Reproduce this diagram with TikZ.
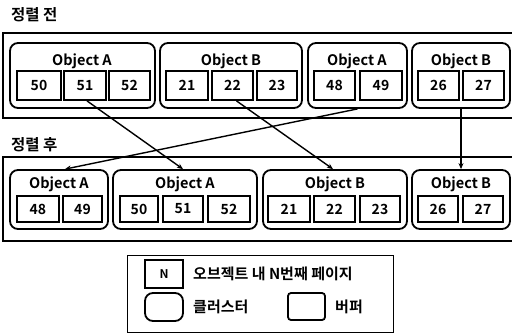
\documentclass[tikz,border=0pt]{standalone}
\usepackage{fontspec}
\setmainfont{Noto Sans CJK KR}[BoldFont={Noto Sans CJK KR Bold}]
\usetikzlibrary{arrows.meta}
\newcommand\bx[7]{\node[#1, minimum width={#4-#3}, minimum height={#6-#5}] (#2) at ({(#3+#4)/2},{(#5+#6)/2}) {#7};}
\begin{document}
\begin{tikzpicture}[x=1pt,y=-1pt,
  pagebox/.style={draw, line width=1.8pt, inner sep=0pt, font=\bfseries\fontsize{14}{15}\selectfont},
  clusterbox/.style={draw, line width=1.8pt, rounded corners=8pt, inner sep=0pt},
  objtitle/.style={font=\bfseries\fontsize{14.5}{15}\selectfont, inner sep=0pt},
  sectitle/.style={font=\bfseries\fontsize{15.5}{16}\selectfont, inner sep=0pt, anchor=west},
  buf/.style={line width=2pt},
  move/.style={line width=1.4pt, -{Stealth[length=6pt,width=5pt]}},
  legtext/.style={font=\bfseries\fontsize{15}{16}\selectfont, inner sep=0pt, anchor=west},
  legbox/.style={draw, line width=0.9pt, inner sep=0pt}
]
\useasboundingbox (0,0) rectangle (512,333);

% section titles
\node[sectitle] (t1) at (11,15) {정렬 전};
\node[sectitle] (t2) at (11,145) {정렬 후};

% buffers
\draw[buf] (512,33) -- (3,33) -- (3,118) -- (512,118);
\draw[buf] (512,157) -- (3,157) -- (3,241) -- (512,241);

% ---- top row ----
\bx{clusterbox}{tc1}{10}{155}{43}{108}{}
\bx{clusterbox}{tc2}{160}{302}{43}{108}{}
\bx{clusterbox}{tc3}{308}{407}{43}{108}{}
\bx{clusterbox}{tc4}{412}{510}{43}{108}{}
\node[objtitle] (tl1) at (82,61) {Object A};
\node[objtitle] (tl2) at (231,61) {Object B};
\node[objtitle] (tl3) at (357,61) {Object A};
\node[objtitle] (tl4) at (461,61) {Object B};
\bx{pagebox}{t50}{17}{61}{71}{100}{50}
\bx{pagebox}{t51}{64}{106}{71}{100}{51}
\bx{pagebox}{t52}{109}{150}{71}{100}{52}
\bx{pagebox}{t21}{166}{208}{71}{100}{21}
\bx{pagebox}{t22}{212}{253}{71}{100}{22}
\bx{pagebox}{t23}{257}{297}{71}{100}{23}
\bx{pagebox}{t48}{314}{355}{71}{100}{48}
\bx{pagebox}{t49}{360}{402}{71}{100}{49}
\bx{pagebox}{t26}{418}{459}{71}{100}{26}
\bx{pagebox}{t27}{463}{504}{71}{100}{27}

% ---- bottom row ----
\bx{clusterbox}{bc1}{10}{108}{170}{229}{}
\bx{clusterbox}{bc2}{113}{257}{170}{229}{}
\bx{clusterbox}{bc3}{263}{407}{170}{229}{}
\bx{clusterbox}{bc4}{412}{510}{170}{229}{}
\node[objtitle] (bl1) at (59,184) {Object A};
\node[objtitle] (bl2) at (185,184) {Object A};
\node[objtitle] (bl3) at (335,184) {Object B};
\node[objtitle] (bl4) at (461,184) {Object B};
\bx{pagebox}{b48}{17}{59}{196}{222}{48}
\bx{pagebox}{b49}{63}{102}{196}{222}{49}
\bx{pagebox}{b50}{120}{158}{196}{222}{50}
\bx{pagebox}{b51}{163}{203}{196}{222}{51}
\bx{pagebox}{b52}{208}{250}{196}{222}{52}
\bx{pagebox}{b21}{268}{310}{196}{222}{21}
\bx{pagebox}{b22}{314}{355}{196}{222}{22}
\bx{pagebox}{b23}{360}{400}{196}{222}{23}
\bx{pagebox}{b26}{418}{458}{196}{222}{26}
\bx{pagebox}{b27}{463}{503}{196}{222}{27}

% ---- moves ----
\draw[move] ([xshift=2pt]t51.south) -- ([xshift=-2pt]bc2.north);
\draw[move] ([xshift=4pt]t22.south) -- ([xshift=-2pt]bc3.north);
\draw[move] (tc3.south) -- ([xshift=6pt]bc1.north);
\draw[move] (tc4.south) -- (bc4.north);

% ---- legend ----
\bx{legbox}{leg}{127}{393}{255}{332}{}
\bx{pagebox}{lgN}{145}{183}{260}{288}{\fontsize{12}{13}\selectfont N}
\node[legtext] (lgNt) at (193,274) {오브젝트 내 N번째 페이지};
\bx{clusterbox}{lgC}{145}{183}{293}{321}{}
\node[legtext] (lgCt) at (193,307) {클러스터};
\node[draw, line width=1.8pt, rounded corners=3pt, inner sep=0pt, minimum width=37, minimum height=27] (lgB) at (306.5,306.5) {};
\node[legtext] (lgBt) at (335,307) {버퍼};
\end{tikzpicture}
\end{document}
